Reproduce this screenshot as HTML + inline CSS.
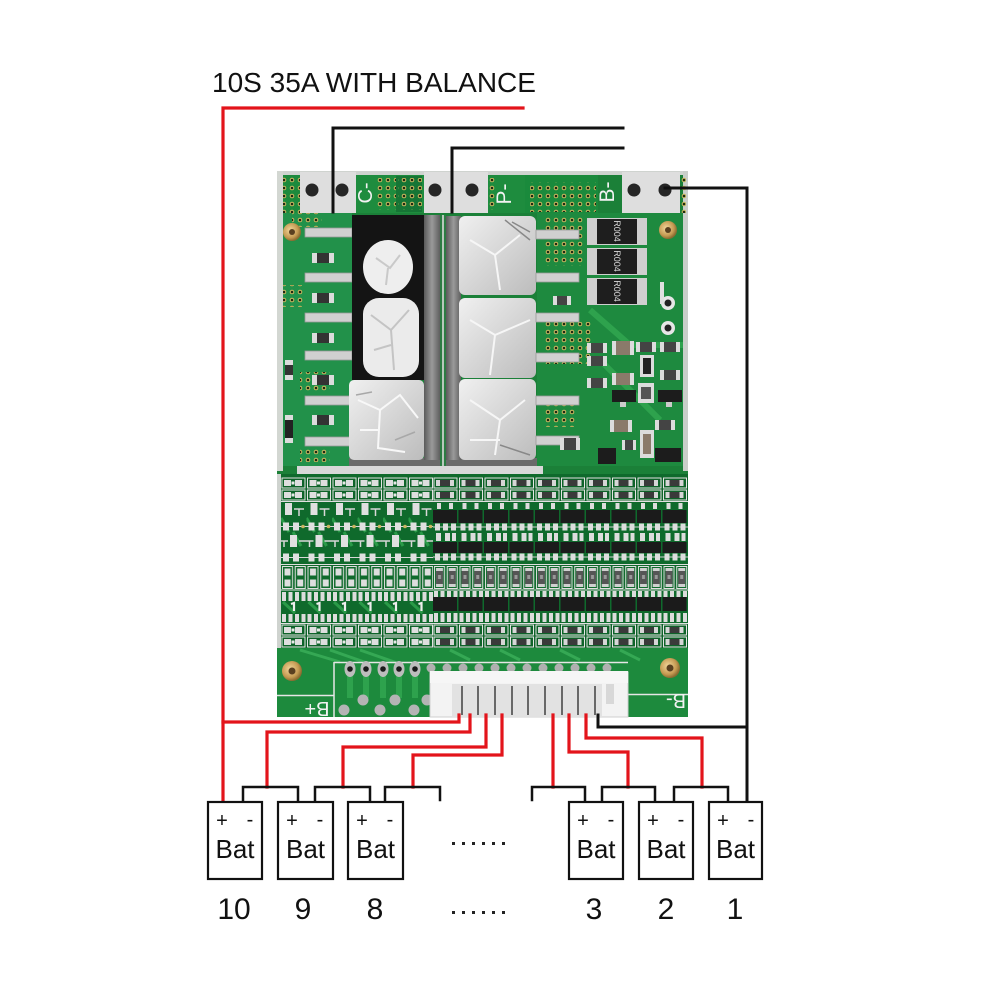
<!DOCTYPE html>
<html><head><meta charset="utf-8"><style>
html,body{margin:0;padding:0;background:#fff;width:1000px;height:1000px;overflow:hidden;}
svg{display:block;}
</style></head><body>
<svg width="1000" height="1000" viewBox="0 0 1000 1000" xmlns="http://www.w3.org/2000/svg">
<defs>
<pattern id="via" width="8" height="8" patternUnits="userSpaceOnUse"><circle cx="4" cy="4" r="2.3" fill="#cdbb62"/><circle cx="4" cy="4" r="1.3" fill="#1d2a12"/></pattern>
<pattern id="rL" width="25.5" height="12" patternUnits="userSpaceOnUse">
 <rect width="25.5" height="12" fill="#0e6329"/>
 <rect x="1" y="1" width="23" height="10" fill="none" stroke="#e4e4e4" stroke-width="1"/>
 <rect x="3" y="3" width="7" height="6" fill="#dedede"/>
 <rect x="14" y="3" width="7" height="6" fill="#dedede"/>
 <rect x="10.5" y="4.5" width="3" height="3" fill="#e8e8e8"/>
</pattern>
<pattern id="rR" width="25.5" height="12" patternUnits="userSpaceOnUse">
 <rect width="25.5" height="12" fill="#0e6329"/>
 <rect x="1" y="1" width="23" height="10" fill="none" stroke="#e4e4e4" stroke-width="1"/>
 <rect x="3" y="3" width="18" height="6" fill="#d6d6d6"/>
 <rect x="7" y="3" width="10" height="6" fill="#3a3a3a"/>
</pattern>
<pattern id="mL" width="25.5" height="60" patternUnits="userSpaceOnUse">
 <rect width="25.5" height="60" fill="#0f6a2c"/>
 <path d="M0 16 L8 30 M12 30 L20 44" stroke="#2a9a48" stroke-width="3" fill="none"/>
 <rect x="4" y="1" width="7" height="12" fill="#e0e0e0"/>
 <path d="M13 7H23M18 7V14" stroke="#d8d8d8" stroke-width="1.5" fill="none"/>
 <path d="M0 24.5H25.5" stroke="#d8d8d8" stroke-width="1"/>
 <rect x="2" y="20.5" width="6" height="8" fill="#e0e0e0"/>
 <rect x="12" y="20.5" width="6" height="8" fill="#e0e0e0"/>
 <circle cx="22" cy="24.5" r="1.8" fill="#c9b560"/>
 <rect x="9" y="33" width="7" height="12" fill="#e0e0e0"/>
 <path d="M0 39H7M18 39H25.5M3 39V45" stroke="#d8d8d8" stroke-width="1.5" fill="none"/>
 <path d="M0 55.5H25.5" stroke="#d8d8d8" stroke-width="1"/>
 <rect x="2" y="51.5" width="6" height="8" fill="#e0e0e0"/>
 <rect x="12" y="51.5" width="6" height="8" fill="#e0e0e0"/>
</pattern>
<pattern id="mR" width="25.5" height="60" patternUnits="userSpaceOnUse">
 <rect width="25.5" height="60" fill="#0f6a2c"/>
 <rect x="4" y="1" width="4" height="6" fill="#ddd"/><rect x="16" y="1" width="4" height="6" fill="#ddd"/>
 <rect x="0" y="8" width="24" height="13" fill="#1b1b1b"/>
 <path d="M0 25H25.5" stroke="#cfcfcf"/>
 <rect x="2" y="21.5" width="5" height="7" fill="#ddd"/><rect x="10" y="21.5" width="5" height="7" fill="#ddd"/><rect x="18" y="21.5" width="5" height="7" fill="#ddd"/>
 <rect x="3" y="31" width="5" height="8" fill="#ddd"/><rect x="12" y="31" width="5" height="8" fill="#ddd"/><rect x="19" y="31" width="4" height="8" fill="#ddd"/>
 <rect x="0" y="40" width="24" height="11" fill="#1b1b1b"/>
 <path d="M0 55H25.5" stroke="#cfcfcf"/>
 <rect x="2" y="51.5" width="5" height="7" fill="#ddd"/><rect x="10" y="51.5" width="5" height="7" fill="#ddd"/><rect x="18" y="51.5" width="5" height="7" fill="#ddd"/>
</pattern>
<pattern id="vL" width="12.75" height="23" patternUnits="userSpaceOnUse">
 <rect width="12.75" height="23" fill="#0f6a2c"/>
 <rect x="1.5" y="0.5" width="10" height="22" fill="none" stroke="#e0e0e0"/>
 <rect x="3.5" y="2.5" width="6" height="7" fill="#dedede"/>
 <rect x="3.5" y="13.5" width="6" height="7" fill="#dedede"/>
</pattern>
<pattern id="vR" width="12.75" height="23" patternUnits="userSpaceOnUse">
 <rect width="12.75" height="23" fill="#0f6a2c"/>
 <rect x="1.5" y="0.5" width="10" height="22" fill="none" stroke="#e0e0e0"/>
 <rect x="3" y="2" width="7" height="19" fill="#d0d0d0"/>
 <rect x="3" y="5" width="7" height="13" fill="#555"/>
 <rect x="5" y="9" width="3" height="4" fill="#999"/>
</pattern>
<pattern id="sL" width="25.5" height="32" patternUnits="userSpaceOnUse">
 <rect width="25.5" height="32" fill="#0f6a2c"/>
 <path d="M2 11 L14 22" stroke="#2a9a48" stroke-width="3"/>
 <rect x="1" y="1" width="4" height="9" fill="#dcdcdc"/><rect x="7.5" y="1" width="4" height="9" fill="#dcdcdc"/><rect x="14" y="1" width="4" height="9" fill="#dcdcdc"/><rect x="20.5" y="1" width="4" height="9" fill="#dcdcdc"/>
 <path d="M10 13 L13 12 V20" stroke="#eee" stroke-width="2.2" fill="none"/>
 <rect x="1" y="23" width="4" height="8" fill="#dcdcdc"/><rect x="7.5" y="23" width="4" height="8" fill="#dcdcdc"/><rect x="14" y="23" width="4" height="8" fill="#dcdcdc"/><rect x="20.5" y="23" width="4" height="8" fill="#dcdcdc"/>
</pattern>
<pattern id="sR" width="25.5" height="32" patternUnits="userSpaceOnUse">
 <rect width="25.5" height="32" fill="#0f6a2c"/>
 <rect x="1" y="0" width="4" height="6" fill="#dcdcdc"/><rect x="7.5" y="0" width="4" height="6" fill="#dcdcdc"/><rect x="14" y="0" width="4" height="6" fill="#dcdcdc"/><rect x="20.5" y="0" width="4" height="6" fill="#dcdcdc"/>
 <rect x="0" y="6" width="24" height="14" fill="#1b1b1b"/>
 <rect x="1" y="22" width="4" height="9" fill="#dcdcdc"/><rect x="7.5" y="22" width="4" height="9" fill="#dcdcdc"/><rect x="14" y="22" width="4" height="9" fill="#dcdcdc"/><rect x="20.5" y="22" width="4" height="9" fill="#dcdcdc"/>
</pattern>
<radialGradient id="brass" cx="0.4" cy="0.4" r="0.6"><stop offset="0" stop-color="#f2d79a"/><stop offset="0.7" stop-color="#c59a52"/><stop offset="1" stop-color="#8a6a30"/></radialGradient>
<linearGradient id="silver" x1="0" y1="0" x2="1" y2="1"><stop offset="0" stop-color="#f0f0f0"/><stop offset="0.5" stop-color="#d6d6d6"/><stop offset="1" stop-color="#bcbcbc"/></linearGradient>
<linearGradient id="tab" x1="0" y1="0" x2="1" y2="0"><stop offset="0" stop-color="#5a5a5a"/><stop offset="0.5" stop-color="#9a9a9a"/><stop offset="1" stop-color="#5e5e5e"/></linearGradient>
</defs>

<!-- Title -->
<text x="212" y="92" font-family="Liberation Sans, Arial, sans-serif" font-size="28" fill="#111" textLength="324" lengthAdjust="spacingAndGlyphs">10S 35A WITH BALANCE</text>

<!-- ===== PCB ===== -->
<g>
<rect x="277" y="171" width="411" height="546" fill="#1b8038"/>
<!-- top strip -->
<rect x="277" y="171" width="411" height="4" fill="#cfd3cf"/>
<rect x="277" y="171" width="6" height="300" fill="#d3d7d2"/>
<rect x="683" y="171" width="5" height="300" fill="#c9cec9"/>
<rect x="283" y="175" width="17" height="38" fill="#1d8a3c"/>
<rect x="283" y="175" width="17" height="38" fill="url(#via)"/>
<rect x="300" y="172" width="56" height="41" fill="#dedede"/>
<circle cx="312" cy="190" r="6.5" fill="#262626"/><circle cx="342" cy="190" r="6.5" fill="#262626"/>
<rect x="356" y="175" width="68" height="38" fill="#1e8c3e"/>
<rect x="376" y="178" width="46" height="32" fill="url(#via)"/>
<rect x="396" y="176" width="26" height="36" fill="#167535"/>
<rect x="398" y="178" width="24" height="32" fill="url(#via)"/>
<text transform="translate(372,193) rotate(-90)" text-anchor="middle" font-family="Liberation Sans, Arial, sans-serif" font-size="20" fill="#f2f2f2">C-</text>
<rect x="424" y="172" width="64" height="41" fill="#dedede"/>
<circle cx="435" cy="190" r="6.5" fill="#262626"/><circle cx="472" cy="190" r="6.5" fill="#262626"/>
<rect x="488" y="175" width="37" height="38" fill="#1e8c3e"/>
<rect x="488" y="178" width="8" height="32" fill="url(#via)"/>
<text transform="translate(511,194) rotate(-90)" text-anchor="middle" font-family="Liberation Sans, Arial, sans-serif" font-size="21" fill="#f2f2f2">P-</text>
<rect x="525" y="175" width="73" height="38" fill="#1a8a3c"/>
<rect x="530" y="182" width="66" height="30" fill="url(#via)"/>
<text transform="translate(614,192) rotate(-90)" text-anchor="middle" font-family="Liberation Sans, Arial, sans-serif" font-size="21" fill="#f2f2f2">B-</text>
<rect x="622" y="172" width="58" height="41" fill="#dedede"/>
<circle cx="634" cy="190" r="6.5" fill="#262626"/><circle cx="665" cy="190" r="6.5" fill="#262626"/>
<rect x="680" y="175" width="6" height="38" fill="url(#via)"/>

<!-- left components area -->
<rect x="283" y="213" width="69" height="253" fill="#22914a"/>
<rect x="292" y="213" width="30" height="14" fill="url(#via)"/>
<rect x="283" y="285" width="22" height="22" fill="url(#via)"/>
<rect x="300" y="372" width="30" height="20" fill="url(#via)"/>
<rect x="300" y="448" width="30" height="14" fill="url(#via)"/>
<g fill="#d0d0d0" stroke="#9a9a9a" stroke-width="0.8">
<rect x="305" y="228" width="47" height="9"/>
<rect x="305" y="273" width="47" height="9"/>
<rect x="305" y="313" width="47" height="9"/>
<rect x="305" y="351" width="47" height="9"/>
<rect x="305" y="396" width="47" height="9"/>
<rect x="305" y="437" width="47" height="9"/>
</g>
<g>
<rect x="312" y="253" width="22" height="10" fill="#dcdcdc"/><rect x="317" y="253" width="12" height="10" fill="#333"/>
<rect x="312" y="293" width="22" height="10" fill="#dcdcdc"/><rect x="317" y="293" width="12" height="10" fill="#333"/>
<rect x="312" y="333" width="22" height="10" fill="#dcdcdc"/><rect x="317" y="333" width="12" height="10" fill="#333"/>
<rect x="312" y="375" width="22" height="10" fill="#dcdcdc"/><rect x="317" y="375" width="12" height="10" fill="#333"/>
<rect x="312" y="415" width="22" height="10" fill="#dcdcdc"/><rect x="317" y="415" width="12" height="10" fill="#333"/>
<rect x="285" y="360" width="8" height="20" fill="#dcdcdc"/><rect x="285" y="365" width="8" height="10" fill="#333"/>
<rect x="285" y="415" width="8" height="28" fill="#dcdcdc"/><rect x="285" y="420" width="8" height="18" fill="#222"/>
</g>
<circle cx="292" cy="232" r="9" fill="url(#brass)"/><circle cx="292" cy="232" r="3" fill="#5a4020"/>

<!-- MOSFETs -->
<rect x="349" y="458" width="190" height="9" fill="#6a6a6a"/>
<rect x="352" y="215" width="72" height="165" fill="#141414"/>
<ellipse cx="388" cy="267" rx="25" ry="27" fill="#eeeeee"/>
<path d="M376 258 L390 268 L400 255 M388 268 L386 285" stroke="#c9c9c9" stroke-width="2" fill="none"/>
<rect x="363" y="298" width="56" height="79" rx="16" fill="#ebebeb"/>
<path d="M371 315 L391 330 L409 310 M391 330 L394 370 M374 350 L391 345" stroke="#c4c4c4" stroke-width="2" fill="none"/>
<rect x="349" y="380" width="75" height="80" rx="5" fill="url(#silver)"/>
<path d="M358 400 L380 410 L400 395 L418 418 M380 410 L378 448 L405 452 M360 430 L378 430" stroke="#f8f8f8" stroke-width="2" fill="none"/>
<path d="M356 395 L372 392 M395 440 L415 432" stroke="#a8a8a8" stroke-width="1.5" fill="none"/>
<rect x="424" y="215" width="16" height="245" fill="url(#tab)"/>
<rect x="440" y="215" width="6" height="252" fill="#2c7c43"/>
<rect x="442" y="215" width="2" height="252" fill="#b8c8bc"/>
<rect x="446" y="216" width="15" height="244" fill="url(#tab)"/>
<rect x="459" y="216" width="77" height="79" rx="6" fill="url(#silver)"/>
<rect x="459" y="298" width="77" height="80" rx="6" fill="url(#silver)"/>
<rect x="459" y="379" width="77" height="81" rx="6" fill="url(#silver)"/>
<path d="M470 240 L495 255 L520 235 M495 255 L500 290 M470 320 L495 335 L530 320 M495 335 L490 375 M470 400 L500 420 L525 400 M500 420 L495 455 M470 440 L500 440" stroke="#f6f6f6" stroke-width="2" fill="none"/>
<path d="M505 220 L530 240 M512 222 L530 232 M500 445 L530 455" stroke="#888" stroke-width="1.5" fill="none"/>
<rect x="297" y="466" width="246" height="8" fill="#d8d8d8"/>

<!-- right components area -->
<rect x="537" y="213" width="146" height="253" fill="#1e8a3f"/>
<rect x="545" y="216" width="40" height="50" fill="url(#via)"/>
<rect x="545" y="322" width="48" height="42" fill="url(#via)"/>
<rect x="545" y="405" width="30" height="22" fill="url(#via)"/>
<path d="M590 310 L630 345 L683 345 M600 360 L660 420" stroke="#2ea24d" stroke-width="6" fill="none"/>
<g fill="#d0d0d0" stroke="#9a9a9a" stroke-width="0.8">
<rect x="536" y="230" width="43" height="9"/>
<rect x="536" y="273" width="43" height="9"/>
<rect x="536" y="313" width="43" height="9"/>
<rect x="536" y="353" width="43" height="9"/>
<rect x="536" y="396" width="43" height="9"/>
<rect x="536" y="436" width="43" height="9"/>
</g>
<g>
<rect x="587" y="218" width="60" height="27" fill="#cfcfcf"/><rect x="597" y="219" width="40" height="25" fill="#1e1e1e"/>
<rect x="587" y="248" width="60" height="27" fill="#cfcfcf"/><rect x="597" y="249" width="40" height="25" fill="#1e1e1e"/>
<rect x="587" y="278" width="60" height="27" fill="#cfcfcf"/><rect x="597" y="279" width="40" height="25" fill="#1e1e1e"/>
<g font-family="Liberation Sans, Arial, sans-serif" font-size="9" fill="#d8d8d8" text-anchor="middle">
<text transform="translate(617,231) rotate(90)" dy="3">R004</text>
<text transform="translate(617,261) rotate(90)" dy="3">R004</text>
<text transform="translate(617,291) rotate(90)" dy="3">R004</text>
</g>
</g>
<circle cx="668" cy="230" r="9" fill="url(#brass)"/><circle cx="668" cy="230" r="3" fill="#5a4020"/>
<circle cx="668" cy="303" r="7" fill="#e6e6e6"/><circle cx="668" cy="303" r="3.5" fill="#222"/>
<circle cx="668" cy="328" r="7" fill="#e6e6e6"/><circle cx="668" cy="328" r="3.5" fill="#222"/>
<g>
<rect x="553" y="296" width="18" height="9" fill="#dcdcdc"/><rect x="557" y="296" width="10" height="9" fill="#444"/>
<rect x="587" y="343" width="20" height="10" fill="#dcdcdc"/><rect x="591" y="343" width="12" height="10" fill="#444"/>
<rect x="587" y="356" width="20" height="10" fill="#dcdcdc"/><rect x="591" y="356" width="12" height="10" fill="#444"/>
<rect x="612" y="341" width="22" height="14" fill="#dcdcdc"/><rect x="616" y="341" width="14" height="14" fill="#8a7a6a"/>
<rect x="612" y="373" width="22" height="12" fill="#dcdcdc"/><rect x="616" y="373" width="14" height="12" fill="#8a7a6a"/>
<rect x="636" y="342" width="20" height="10" fill="#dcdcdc"/><rect x="640" y="342" width="12" height="10" fill="#444"/>
<rect x="660" y="342" width="20" height="10" fill="#dcdcdc"/><rect x="664" y="342" width="12" height="10" fill="#444"/>
<rect x="640" y="355" width="14" height="22" fill="#dcdcdc"/><rect x="643" y="358" width="8" height="16" fill="#222"/>
<rect x="660" y="370" width="20" height="10" fill="#dcdcdc"/><rect x="664" y="370" width="12" height="10" fill="#444"/>
<rect x="612" y="390" width="24" height="12" fill="#1c1c1c"/><rect x="620" y="402" width="6" height="5" fill="#ccc"/>
<rect x="658" y="390" width="24" height="12" fill="#1c1c1c"/><rect x="666" y="402" width="6" height="5" fill="#ccc"/>
<rect x="638" y="383" width="16" height="20" fill="#dcdcdc"/><rect x="641" y="387" width="10" height="12" fill="#555"/>
<rect x="587" y="378" width="20" height="10" fill="#dcdcdc"/><rect x="591" y="378" width="12" height="10" fill="#444"/>
<rect x="610" y="420" width="22" height="12" fill="#dcdcdc"/><rect x="614" y="420" width="14" height="12" fill="#8a7a6a"/>
<rect x="655" y="420" width="20" height="10" fill="#dcdcdc"/><rect x="659" y="420" width="12" height="10" fill="#444"/>
<rect x="640" y="430" width="14" height="28" fill="#dcdcdc"/><rect x="643" y="434" width="8" height="20" fill="#8a7a6a"/>
<rect x="598" y="448" width="18" height="16" fill="#1c1c1c"/>
<rect x="622" y="440" width="14" height="10" fill="#dcdcdc"/><rect x="625" y="440" width="8" height="10" fill="#444"/>
<rect x="655" y="448" width="26" height="14" fill="#1c1c1c"/>
<rect x="560" y="438" width="20" height="12" fill="#dcdcdc"/><rect x="564" y="438" width="12" height="12" fill="#444"/>
<rect x="660" y="282" width="4" height="22" fill="#e0e0e0"/>
</g>

<!-- resistor array -->
<rect x="277" y="474" width="411" height="178" fill="#0f6a2c"/>
<rect x="277" y="474" width="4" height="178" fill="#cfd3cf"/>
<g transform="translate(281,477)"><rect width="152" height="24" fill="url(#rL)"/></g>
<g transform="translate(433,477)"><rect width="255" height="24" fill="url(#rR)"/></g>
<g transform="translate(281,502)"><rect width="152" height="60" fill="url(#mL)"/></g>
<g transform="translate(433,502)"><rect width="255" height="60" fill="url(#mR)"/></g>
<g transform="translate(281,566)"><rect width="152" height="23" fill="url(#vL)"/></g>
<g transform="translate(433,566)"><rect width="255" height="23" fill="url(#vR)"/></g>
<g transform="translate(281,591)"><rect width="152" height="32" fill="url(#sL)"/></g>
<g transform="translate(433,591)"><rect width="255" height="32" fill="url(#sR)"/></g>
<g transform="translate(281,624)"><rect width="152" height="24" fill="url(#rL)"/></g>
<g transform="translate(433,624)"><rect width="255" height="24" fill="url(#rR)"/></g>
<g stroke="#e0e0e0" stroke-width="1">
<path d="M281 501.5H688M281 564.5H688M281 590H688M281 623.5H688"/>
</g>

<!-- bottom area -->
<rect x="277" y="648" width="411" height="69" fill="#1d8a3d"/>
<path d="M300 650 L340 662 M330 650 L370 664 M360 650 L400 664 M450 650 L470 660 M500 650 L520 660 M560 650 L580 660 M620 650 L640 660" stroke="#35a854" stroke-width="3" fill="none"/>
<path d="M277 695.5H334 M334 662V717 M334 662.5H628 M628 694.5H688" stroke="#e6e6e6" stroke-width="1.5" fill="none"/>
<g fill="#2ea24d">
<rect x="347" y="670" width="6" height="28"/><rect x="363" y="670" width="6" height="28"/><rect x="380" y="670" width="6" height="28"/><rect x="396" y="670" width="6" height="28"/><rect x="412" y="670" width="6" height="28"/>
</g>
<g>
<ellipse cx="350" cy="669" rx="5.5" ry="8" fill="#bdbdbd"/><circle cx="350" cy="669" r="2.8" fill="#1a1a1a"/>
<ellipse cx="366" cy="669" rx="5.5" ry="8" fill="#bdbdbd"/><circle cx="366" cy="669" r="2.8" fill="#1a1a1a"/>
<ellipse cx="383" cy="669" rx="5.5" ry="8" fill="#bdbdbd"/><circle cx="383" cy="669" r="2.8" fill="#1a1a1a"/>
<ellipse cx="399" cy="669" rx="5.5" ry="8" fill="#bdbdbd"/><circle cx="399" cy="669" r="2.8" fill="#1a1a1a"/>
<ellipse cx="415" cy="669" rx="5.5" ry="8" fill="#bdbdbd"/><circle cx="415" cy="669" r="2.8" fill="#1a1a1a"/>
</g>
<g fill="#b4b4b4">
<circle cx="363" cy="700" r="5.5"/><circle cx="395" cy="700" r="5.5"/><circle cx="427" cy="700" r="5.5"/>
<circle cx="344" cy="710" r="5.5"/><circle cx="380" cy="710" r="5.5"/><circle cx="414" cy="710" r="5.5"/>
</g>
<circle cx="292" cy="671" r="10" fill="url(#brass)"/><circle cx="292" cy="671" r="3.5" fill="#5a4020"/>
<circle cx="670" cy="668" r="10" fill="url(#brass)"/><circle cx="670" cy="668" r="3.5" fill="#5a4020"/>
<text transform="translate(317,709) rotate(180)" text-anchor="middle" dy="7" font-family="Liberation Sans, Arial, sans-serif" font-size="20" fill="#f2f2f2">B+</text>
<text transform="translate(676,701) rotate(180)" text-anchor="middle" dy="7" font-family="Liberation Sans, Arial, sans-serif" font-size="20" fill="#f2f2f2">B-</text>

<!-- connector -->
<rect x="430" y="672" width="198" height="45" fill="#f3f3f3" stroke="#cfcfcf" stroke-width="1"/>
<rect x="452" y="684" width="150" height="32" fill="#e2e2e2"/>
<rect x="606" y="684" width="8" height="20" fill="#d8d8d8"/>
<g fill="#b0b0b0">
<circle cx="431" cy="668" r="4.5"/><circle cx="447" cy="668" r="4.5"/><circle cx="463" cy="668" r="4.5"/><circle cx="479" cy="668" r="4.5"/><circle cx="495" cy="668" r="4.5"/><circle cx="511" cy="668" r="4.5"/><circle cx="527" cy="668" r="4.5"/><circle cx="543" cy="668" r="4.5"/><circle cx="559" cy="668" r="4.5"/><circle cx="575" cy="668" r="4.5"/><circle cx="591" cy="668" r="4.5"/><circle cx="607" cy="668" r="4.5"/>
</g>
<rect x="430" y="671" width="198" height="12" fill="#f6f6f6"/>
<g stroke="#4a4a4a" stroke-width="1.6">
<path d="M462 686V715M478 686V715M495 686V715M512 686V715M528 686V715M545 686V715M562 686V715M578 686V715M595 686V715"/>
</g>
</g>

<!-- ===== Wires ===== -->
<g fill="none" stroke-linecap="square" stroke-linejoin="miter">
<g stroke="#e3141b" stroke-width="3.2">
<path d="M523 108H223V801"/>
<path d="M223 722H459V715"/>
<path d="M267 787V732H470V715"/>
<path d="M343 787V747H486V715"/>
<path d="M413 787V755H502V715"/>
<path d="M553 715V787"/>
<path d="M569 715V752H628V787"/>
<path d="M586 715V738H702V787"/>
</g>
<g stroke="#111" stroke-width="3">
<path d="M623 128H333V212"/>
<path d="M623 148H452V212"/>
<path d="M665 188H747V801"/>
<path d="M598 715V727H747"/>
</g>
<g stroke="#111" stroke-width="2.5">
<path d="M243 801V787H298V801"/>
<path d="M315 801V787H370V801"/>
<path d="M385 801V787H440V800"/>
<path d="M532 800V787H585V801"/>
<path d="M602 801V787H655V801"/>
<path d="M674 801V787H728V801"/>
</g>
</g>

<!-- ===== Batteries ===== -->
<g fill="#fff" stroke="#111" stroke-width="2.2">
<rect x="208" y="802" width="54" height="77"/>
<rect x="278" y="802" width="55" height="77"/>
<rect x="348" y="802" width="55" height="77"/>
<rect x="569" y="802" width="54" height="77"/>
<rect x="639" y="802" width="54" height="77"/>
<rect x="709" y="802" width="53" height="77"/>
</g>
<g font-family="Liberation Sans, Arial, sans-serif" fill="#111" text-anchor="middle">
<g font-size="20">
<text x="222" y="827">+</text><text x="250" y="826">-</text>
<text x="292" y="827">+</text><text x="320" y="826">-</text>
<text x="362" y="827">+</text><text x="390" y="826">-</text>
<text x="583" y="827">+</text><text x="611" y="826">-</text>
<text x="653" y="827">+</text><text x="681" y="826">-</text>
<text x="723" y="827">+</text><text x="751" y="826">-</text>
</g>
<g font-size="26">
<text x="235" y="858">Bat</text>
<text x="305.5" y="858">Bat</text>
<text x="375.5" y="858">Bat</text>
<text x="596" y="858">Bat</text>
<text x="666" y="858">Bat</text>
<text x="735.5" y="858">Bat</text>
</g>
<g font-size="30">
<text x="234" y="919">10</text>
<text x="303" y="919">9</text>
<text x="375" y="919">8</text>
<text x="594" y="919">3</text>
<text x="666" y="919">2</text>
<text x="735" y="919">1</text>
</g>
</g>
<g fill="#222">
<rect x="452" y="842" width="3" height="3"/><rect x="462" y="842" width="3" height="3"/><rect x="472" y="842" width="3" height="3"/><rect x="482" y="842" width="3" height="3"/><rect x="492" y="842" width="3" height="3"/><rect x="502" y="842" width="3" height="3"/>
<rect x="452" y="911" width="3" height="3"/><rect x="462" y="911" width="3" height="3"/><rect x="472" y="911" width="3" height="3"/><rect x="482" y="911" width="3" height="3"/><rect x="492" y="911" width="3" height="3"/><rect x="502" y="911" width="3" height="3"/>
</g>
</svg>
</body></html>
